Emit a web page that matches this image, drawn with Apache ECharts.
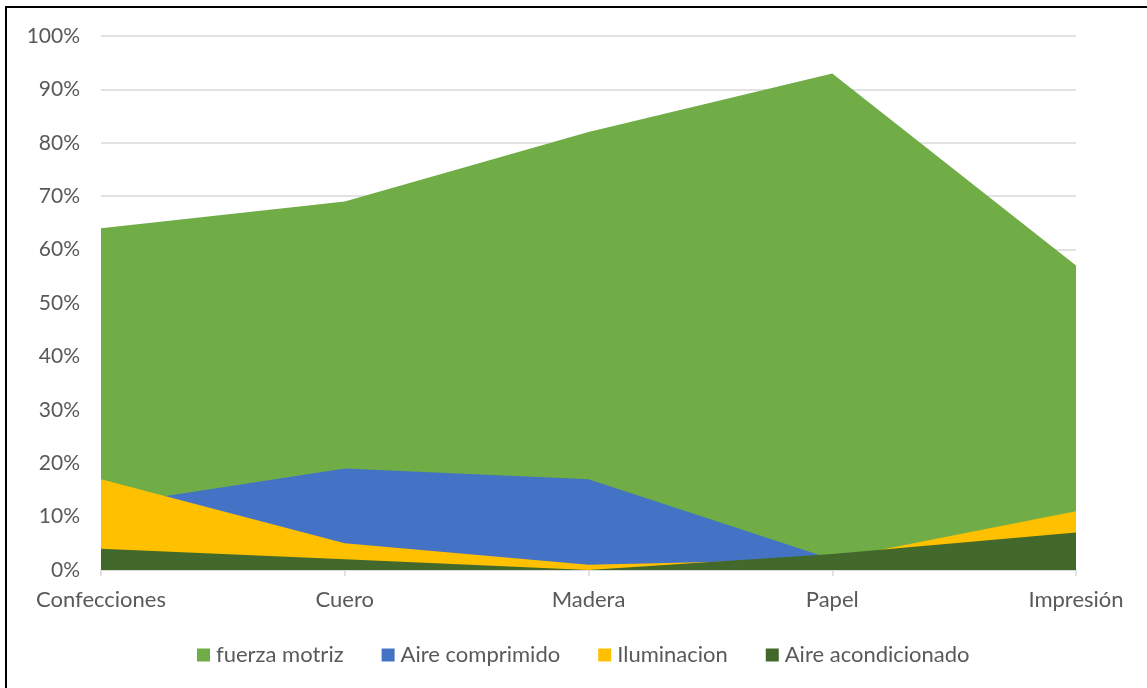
<!DOCTYPE html>
<html>
<head>
<meta charset="utf-8">
<script src="https://cdn.jsdelivr.net/npm/echarts@6/dist/echarts.min.js"></script>
<style>
  html, body { margin: 0; padding: 0; background: #fff; }
  #chart { width: 1147px; height: 688px; }
</style>
</head>
<body>
<div id="chart"></div>
<script>
// Sectors on the category axis
const categories = ['Confecciones', 'Cuero', 'Madera', 'Papel', 'Impresión'];

// Share of electricity use per end use (%)
const fuerzaMotriz = [64, 69, 82, 93, 57];
const aireComprimido = [12, 19, 17, 2, 5];
const iluminacion = [17, 5, 1, 2, 11];
const aireAcondicionado = [4, 2, 0, 3, 7];

const seriesNames = ['fuerza motriz', 'Aire comprimido', 'Iluminacion', 'Aire acondicionado'];
const seriesData = [fuerzaMotriz, aireComprimido, iluminacion, aireAcondicionado];
const seriesColors = ['#70AD47', '#4472C4', '#FFC000', '#43682B'];

const font = 'Lato, "Open Sans", sans-serif';
const chart = echarts.init(document.getElementById('chart'));

chart.setOption({
  animation: false,
  backgroundColor: '#fff',
  color: seriesColors,
  graphic: [{
    type: 'rect',
    shape: { x: 6, y: 7, width: 1200, height: 800 },
    style: { fill: 'none', stroke: '#000', lineWidth: 2 },
    silent: true,
    z: 100
  }],
  grid: { left: 101, right: 71, top: 36, bottom: 118 },
  legend: {
    bottom: 17,
    left: 192,
    itemWidth: 13,
    itemHeight: 13,
    itemGap: 38,
    icon: 'rect',
    textStyle: { fontFamily: font, fontSize: 22, color: '#595959', padding: [0, 0, 0, 1] },
    data: seriesNames
  },
  xAxis: {
    type: 'category',
    data: categories,
    boundaryGap: false,
    axisLine: { lineStyle: { color: '#d9d9d9', width: 1.5 } },
    axisTick: { show: true, length: 6, lineStyle: { color: '#d9d9d9', width: 1.5 } },
    axisLabel: { fontFamily: font, fontSize: 22, color: '#595959', margin: 19 },
    splitLine: { show: false }
  },
  yAxis: {
    type: 'value',
    min: 0,
    max: 100,
    interval: 10,
    axisLine: { show: false },
    axisTick: { show: false },
    axisLabel: { formatter: '{value}%', fontFamily: font, fontSize: 21, color: '#595959', margin: 21 },
    splitLine: { lineStyle: { color: '#d9d9d9', width: 1.5 } }
  },
  series: seriesNames.map((name, i) => ({
    name: name,
    type: 'line',
    data: seriesData[i],
    showSymbol: false,
    symbol: 'none',
    lineStyle: { width: 0 },
    areaStyle: { color: seriesColors[i], opacity: 1 },
    z: 2 + i
  }))
});
</script>
</body>
</html>
